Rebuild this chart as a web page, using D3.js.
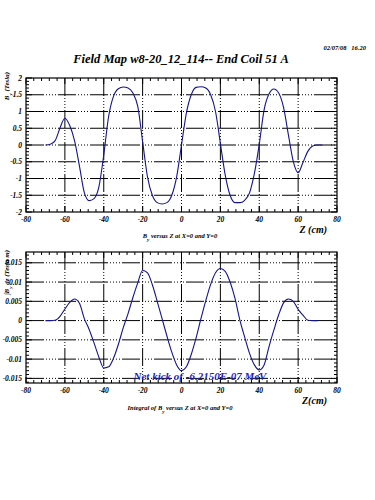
<!DOCTYPE html>
<html>
<head>
<meta charset="utf-8">
<script src="https://cdn.jsdelivr.net/npm/d3@7"></script>
<style>
  body { margin: 0; background: #fff; }
  svg { display: block; }
  text { font-family: "Liberation Serif", "DejaVu Serif", serif; font-style: italic; font-weight: bold; }
</style>
</head>
<body>
<div id="chart"></div>
<script>
// Z positions (cm)
const zField = [-70, -67.5, -65, -62.5, -60, -57.5, -55, -52.5, -50, -47.5, -45, -42.5, -40,
  -37.5, -35, -32.5, -30, -27.5, -25, -22.5, -20, -17.5, -15, -12.5, -10, -7.5, -5, -2.5,
  0, 2.5, 5, 7.5, 10, 12.5, 15, 17.5, 20, 22.5, 25, 27.5, 30, 32.5, 35, 37.5, 40,
  42.5, 45, 47.5, 50, 52.5, 55, 57.5, 60, 62.5, 65, 67.5, 70, 72.5];
// B_y (Tesla)
const byField = [0, 0.02, 0.13, 0.51, 0.8, 0.58, 0.12, -0.63, -1.42, -1.66, -1.6, -1.25, -0.3,
  0.85, 1.45, 1.68, 1.73, 1.7, 1.55, 1.15, 0.1, -0.95, -1.5, -1.72, -1.76, -1.72, -1.5, -0.95,
  0, 0.95, 1.5, 1.72, 1.74, 1.7, 1.5, 1.0, 0.05, -0.9, -1.5, -1.72, -1.72, -1.65, -1.43, -0.85, 0.02,
  1.05, 1.52, 1.67, 1.55, 1.12, 0.3, -0.49, -0.83, -0.52, -0.19, -0.03, 0, 0];

// integral of B_y
const zInt = [-70, -67.5, -65, -62.5, -60, -57.5, -55, -52.5, -50, -47.5, -45, -42.5, -40,
  -37.5, -35, -32.5, -30, -27.5, -25, -22.5, -20, -17.5, -15, -12.5, -10, -7.5, -5, -2.5,
  0, 2.5, 5, 7.5, 10, 12.5, 15, 17.5, 20, 22.5, 25, 27.5, 30, 32.5, 35, 37.5, 40,
  42.5, 45, 47.5, 50, 52.5, 55, 57.5, 60, 62.5, 65, 67.5, 70];
const intBy = [0, 0, 0.0001, 0.0011, 0.003, 0.0047, 0.0056, 0.0045, 0.0005, -0.0023, -0.0058, -0.0095, -0.0123,
  -0.012, -0.0098, -0.0062, -0.0019, 0.0018, 0.006, 0.0098, 0.013, 0.0124, 0.0093, 0.005, 0.0005, -0.004, -0.0082, -0.0115,
  -0.013, -0.012, -0.0088, -0.0045, 0.0005, 0.0052, 0.0094, 0.0124, 0.0135, 0.0128, 0.01, 0.0058, 0.0002, -0.0043, -0.0085, -0.0115, -0.0128,
  -0.0115, -0.0068, -0.0025, 0.0015, 0.0046, 0.0056, 0.005, 0.0029, 0.0014, 0.0001, 0, 0];

const xTicks = [-80, -60, -40, -20, 0, 20, 40, 60, 80];
const topTicks = [-2, -1.5, -1, -0.5, 0, 0.5, 1, 1.5, 2];
const botTicks = [-0.015, -0.01, -0.005, 0, 0.005, 0.01, 0.015];

const W = 375, H = 500;
const svg = d3.select("#chart").append("svg")
  .attr("width", W).attr("height", H);

const x = d3.scaleLinear().domain([-80, 80]).range([26, 337]);
const yTop = d3.scaleLinear().domain([-2, 2]).range([212, 78]);
const yBot = d3.scaleLinear().domain([-0.0162, 0.0178]).range([383, 252]);

const gridDash = "18,2,1,2,1,2,1,2,1,2";
const curveColor = "#14148c";

function panel(y, yTicks, yMinorStep, zs, vals, labelFmt) {
  const g = svg.append("g");
  const [x0, x1] = x.range();
  const [y0, y1] = y.range(); // y0 bottom, y1 top

  // grid
  xTicks.filter(t => t > -80 && t < 80).forEach(t => {
    g.append("line").attr("x1", x(t)).attr("x2", x(t)).attr("y1", y1).attr("y2", y0)
      .attr("stroke", "#000").attr("stroke-width", 1).attr("stroke-dasharray", gridDash);
  });
  yTicks.filter(t => y(t) > y1 + 1 && y(t) < y0 - 1).forEach(t => {
    g.append("line").attr("x1", x0).attr("x2", x1).attr("y1", y(t)).attr("y2", y(t))
      .attr("stroke", "#000").attr("stroke-width", 1).attr("stroke-dasharray", gridDash);
  });

  // minor / major ticks, inward, on all sides
  const xMinor = d3.range(-80, 80.01, 4);
  xMinor.forEach(t => {
    const len = xTicks.includes(t) ? 6 : 3;
    g.append("line").attr("x1", x(t)).attr("x2", x(t)).attr("y1", y0).attr("y2", y0 - len).attr("stroke", "#000");
    g.append("line").attr("x1", x(t)).attr("x2", x(t)).attr("y1", y1).attr("y2", y1 + len).attr("stroke", "#000");
  });
  const [d0, d1] = y.domain();
  const n0 = Math.ceil(d0 / yMinorStep - 1e-6), n1 = Math.floor(d1 / yMinorStep + 1e-6);
  for (let k = n0; k <= n1; k++) {
    const t = k * yMinorStep;
    const major = yTicks.some(m => Math.abs(m - t) < yMinorStep / 10);
    const len = major ? 6 : 3;
    g.append("line").attr("x1", x0).attr("x2", x0 + len).attr("y1", y(t)).attr("y2", y(t)).attr("stroke", "#000");
    g.append("line").attr("x1", x1).attr("x2", x1 - len).attr("y1", y(t)).attr("y2", y(t)).attr("stroke", "#000");
  }

  // frame
  g.append("rect").attr("x", x0).attr("y", y1).attr("width", x1 - x0).attr("height", y0 - y1)
    .attr("fill", "none").attr("stroke", "#000").attr("stroke-width", 1.2);

  // tick labels
  g.selectAll(".yl").data(yTicks).enter().append("text")
    .attr("x", 22).attr("y", d => y(d) + 2.5)
    .attr("text-anchor", "end").attr("font-size", 7.5)
    .text(labelFmt);
  g.selectAll(".xl").data(xTicks).enter().append("text")
    .attr("x", d => x(d)).attr("y", y0 + 10)
    .attr("text-anchor", "middle").attr("font-size", 7.5)
    .text(d => d);

  // curve
  const line = d3.line()
    .x((d, i) => x(zs[i]))
    .y(d => y(d))
    .curve(d3.curveMonotoneX);
  g.append("path").datum(vals)
    .attr("d", line)
    .attr("fill", "none").attr("stroke", curveColor).attr("stroke-width", 1.1);
  return g;
}

panel(yTop, topTicks, 0.1, zField, byField, d => d);
panel(yBot, botTicks, 0.001, zInt, intBy, d => d);

// header
svg.append("text").attr("x", 366).attr("y", 50).attr("text-anchor", "end")
  .attr("font-size", 6.5).text("02/07/08\u00a0\u00a0\u00a016.20");
svg.append("text").attr("x", 181).attr("y", 63).attr("text-anchor", "middle")
  .attr("font-size", 12.5).text("Field Map w8-20_12_114-- End Coil 51 A");

// axis titles
svg.append("text").attr("x", 327).attr("y", 233).attr("text-anchor", "end")
  .attr("font-size", 10).attr("font-weight", "normal").text("Z (cm)");
svg.append("text").attr("x", 327).attr("y", 404).attr("text-anchor", "end")
  .attr("font-size", 10).attr("font-weight", "normal").text("Z(cm)");

function subTitle(yPos, pre, post) {
  const t = svg.append("text").attr("x", 180).attr("y", yPos).attr("text-anchor", "middle").attr("font-size", 6.5);
  t.append("tspan").text(pre + "B");
  t.append("tspan").attr("baseline-shift", "sub").attr("font-size", 5).text("y");
  t.append("tspan").text(post);
}
subTitle(238, "", " versus Z at X=0 and Y=0");
subTitle(410, "Integral of ", " versus Z at X=0 and Y=0");

function yTitle(yPos, pre, post) {
  const t = svg.append("text").attr("transform", `translate(9,${yPos}) rotate(-90)`)
    .attr("text-anchor", "end").attr("font-size", 7).attr("font-weight", "normal");
  t.append("tspan").text(pre + "B");
  t.append("tspan").attr("baseline-shift", "sub").attr("font-size", 5).text("y");
  t.append("tspan").text(post);
}
yTitle(72, "", " (Tesla)");
yTitle(250, "\u222b", " dz (Tesla m)");

// net kick annotation
svg.append("text").attr("x", 200).attr("y", 380).attr("text-anchor", "middle")
  .attr("font-size", 11).attr("fill", "#1f1fc8").text("Net kick of -6.2150E-07 MeV");
</script>
</body>
</html>
